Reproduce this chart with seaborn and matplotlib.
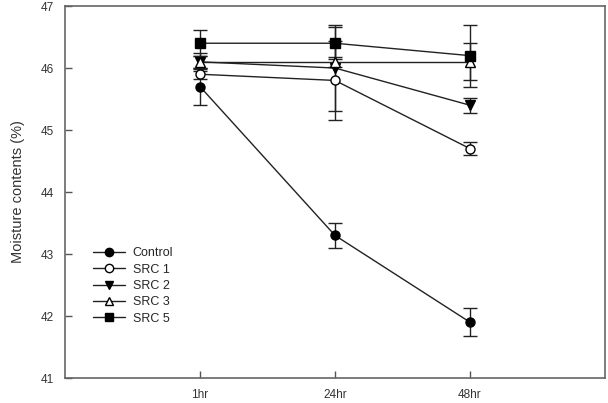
import matplotlib
matplotlib.use("Agg")
import matplotlib.pyplot as plt
import seaborn as sns
import pandas as pd
from matplotlib.lines import Line2D

times = ["1hr", "24hr", "48hr"]
series = ["Control", "SRC 1", "SRC 2", "SRC 3", "SRC 5"]
control = [45.7, 43.3, 41.9]
src1 = [45.9, 45.8, 44.7]
src2 = [46.1, 46.0, 45.4]
src3 = [46.1, 46.1, 46.1]
src5 = [46.4, 46.4, 46.2]
control_err = [0.3, 0.2, 0.23]
src1_err = [0.08, 0.64, 0.1]
src2_err = [0.14, 0.7, 0.12]
src3_err = [0.1, 0.08, 0.3]
src5_err = [0.21, 0.26, 0.5]

values = [control, src1, src2, src3, src5]
errors = [control_err, src1_err, src2_err, src3_err, src5_err]
markers = ["o", "o", "v", "^", "s"]
facecolors = ["black", "white", "black", "white", "black"]

sns.set_style("white")
plt.rcParams["font.family"] = ["Liberation Sans", "DejaVu Sans"]

fig = plt.figure(figsize=(6.08, 4.03), dpi=100)
ax = fig.add_axes([0.107, 0.062, 0.888, 0.923])

xpos = [1, 2, 3]
handles = []
for name, vals, errs, m, fc in zip(series, values, errors, markers, facecolors):
    df = pd.DataFrame({"x": xpos, "y": vals})
    ax.errorbar(xpos, vals, yerr=errs, fmt="none", ecolor="#222222",
                elinewidth=1.0, capsize=5, capthick=1.0, zorder=2)
    sns.lineplot(data=df, x="x", y="y", ax=ax, color="#222222", linewidth=1.0,
                 marker=m, markersize=6.5, markerfacecolor=fc,
                 markeredgecolor="black", markeredgewidth=1.0, zorder=3)
    handles.append(Line2D([0], [0], color="#222222", linewidth=1.0, marker=m,
                          markersize=6, markerfacecolor=fc,
                          markeredgecolor="black", markeredgewidth=1.0))

ax.set_xlim(0, 4)
ax.set_ylim(41, 47)
ax.set_xticks(xpos)
ax.set_xticklabels(times)
ax.set_yticks([41, 42, 43, 44, 45, 46, 47])
ax.set_xlabel("")
ax.set_ylabel("Moisture contents (%)", fontsize=10.5, color="#333333")
ax.yaxis.set_label_coords(-0.075, 0.5)
ax.tick_params(axis="both", which="both", direction="in", length=5,
               width=1, colors="#555555", labelcolor="#333333", labelsize=8.5,
               bottom=True, left=True, top=False, right=False, pad=8)
for sp in ax.spines.values():
    sp.set_visible(True)
    sp.set_color("#666666")
    sp.set_linewidth(1.2)

ax.legend(handles, series, loc="lower left", bbox_to_anchor=(0.035, 0.12),
          frameon=False, fontsize=9, handlelength=2.6, labelspacing=0.35,
          handletextpad=0.6, borderpad=0.2)

fig.savefig("out.png", dpi=100)
